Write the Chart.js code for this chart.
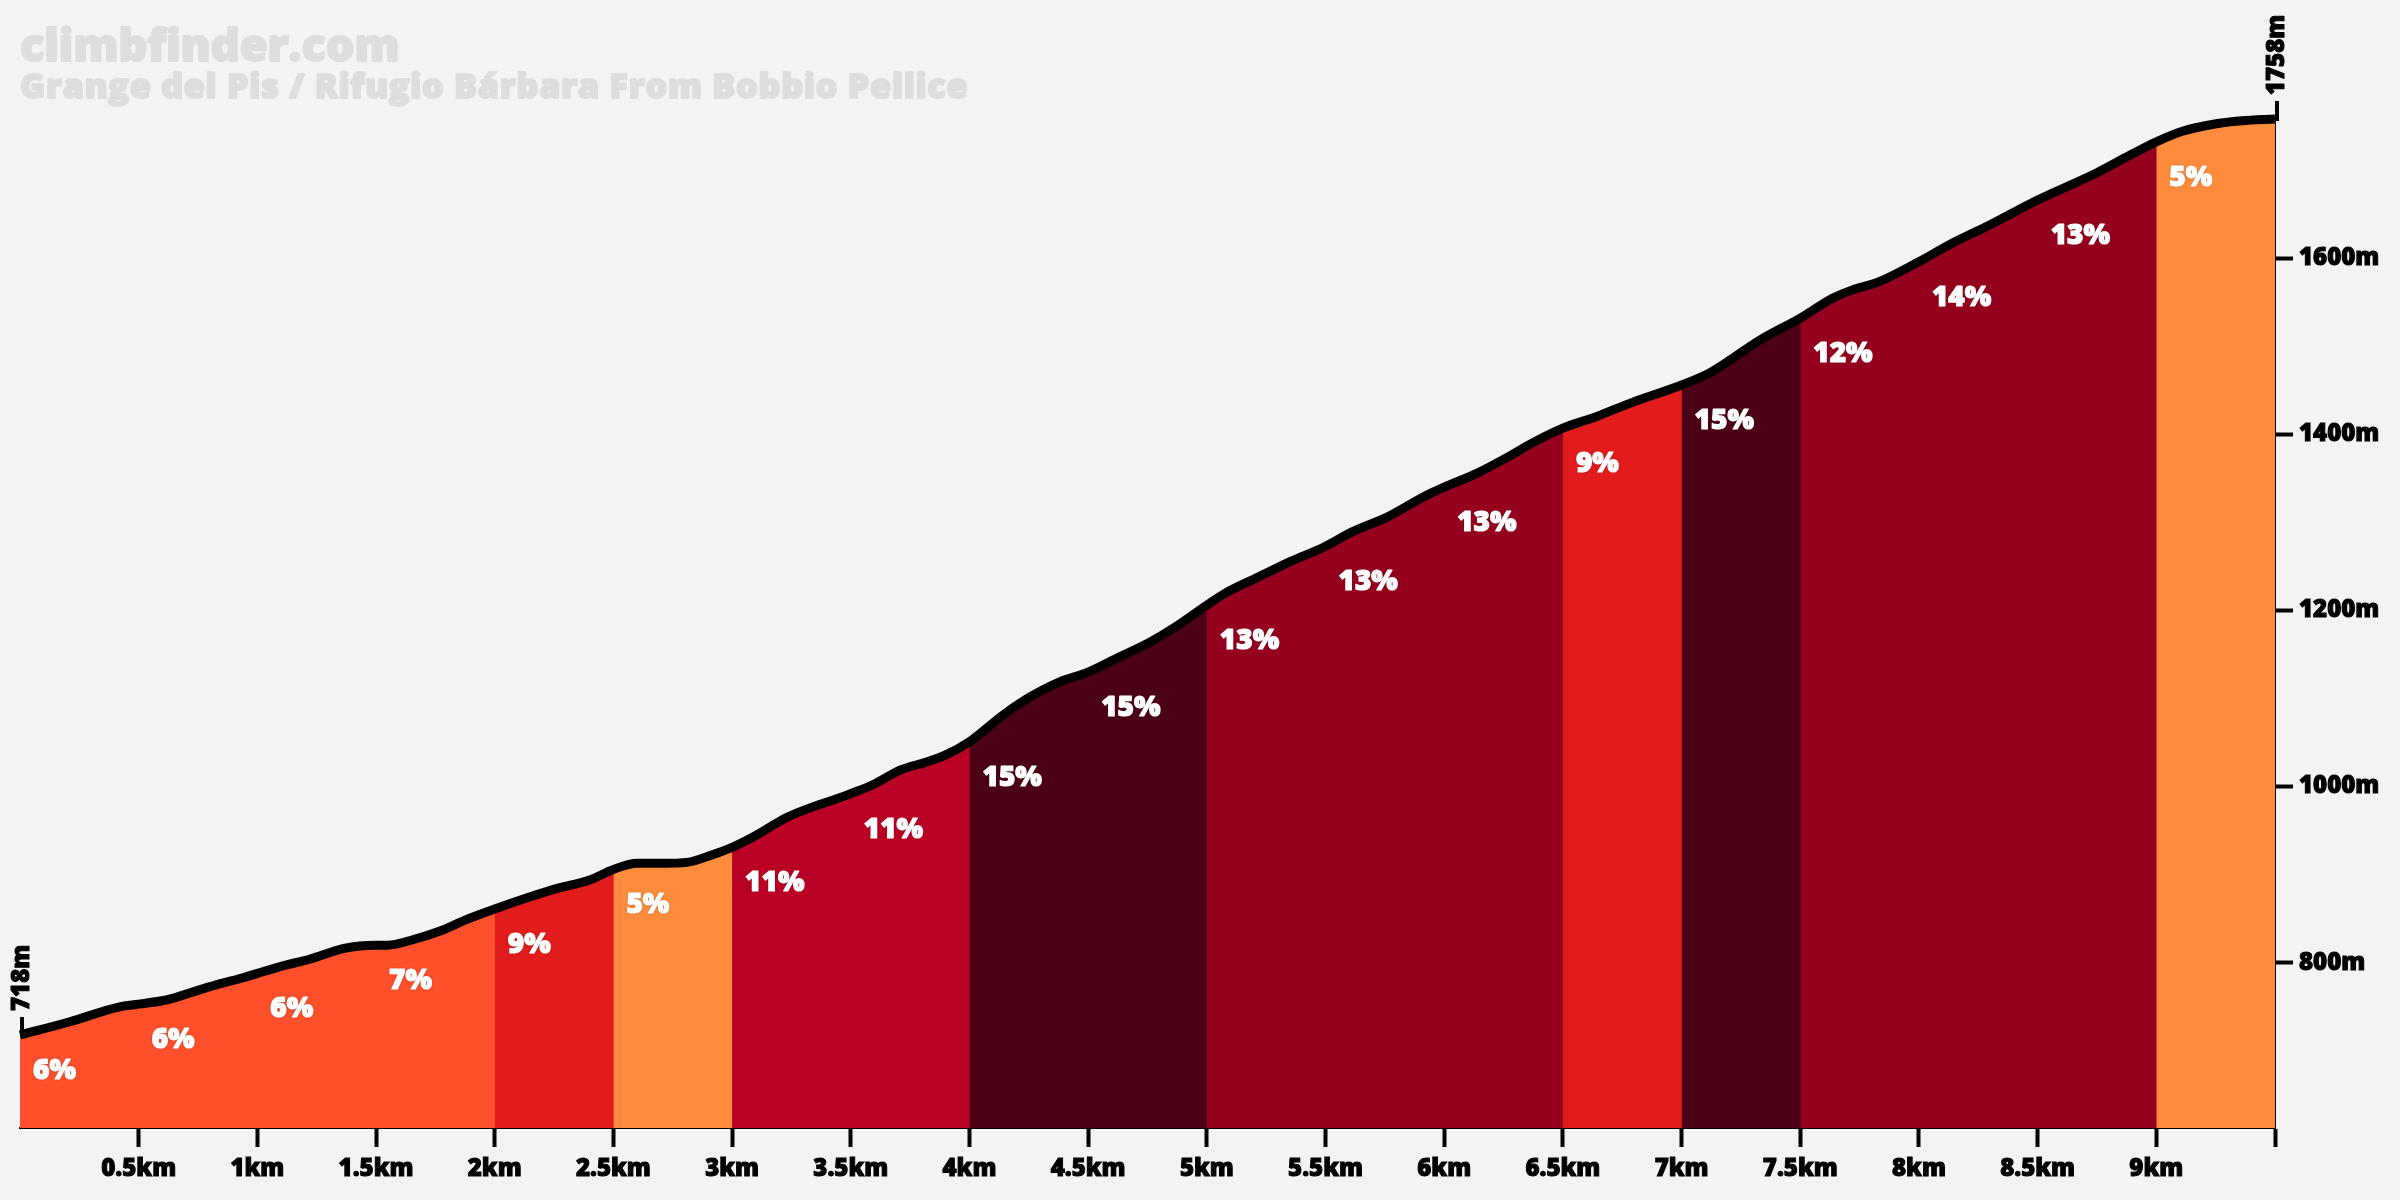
<!DOCTYPE html>
<html>
<head>
<meta charset="utf-8">
<title>climbfinder.com</title>
<script src="https://cdn.jsdelivr.net/npm/chart.js@4/dist/chart.umd.min.js"></script>
<style>
  html, body { margin: 0; padding: 0; background: #f3f3f3; }
  canvas { display: block; }
</style>
</head>
<body>
<canvas id="profile" width="2400" height="1200"></canvas>
<script>
const siteName = "climbfinder.com";
const climbName = "Grange del Pis / Rifugio Bárbara From Bobbio Pellice";

// distance (km) and elevation (m)
const distances = [0, .21, .42, .5, .62, .73, .84, .94, 1, 1.1, 1.22, 1.36, 1.43, 1.5, 1.55, 1.64, 1.77, 1.88,
  2, 2.14, 2.27, 2.4, 2.5, 2.6, 2.71, 2.81, 2.92, 3, 3.09, 3.23, 3.34, 3.45, 3.5, 3.6, 3.71, 3.82, 3.9,
  4, 4.14, 4.25, 4.38, 4.5, 4.63, 4.76, 4.86, 5, 5.08, 5.21, 5.34, 5.5, 5.61, 5.76, 5.92, 6,
  6.14, 6.26, 6.37, 6.5, 6.64, 6.79, 7, 7.12, 7.33, 7.5, 7.64, 7.72, 7.83, 8, 8.14, 8.3,
  8.5, 8.75, 8.89, 9, 9.11, 9.24, 9.36, 9.5];
const elevations = [718, 733, 750, 753, 758, 767, 776, 783, 788, 796, 804, 816, 819, 820, 820, 825, 836, 849,
  861, 874, 885, 894, 906, 913, 913, 914, 923, 931, 943, 965, 977, 987, 992, 1003, 1019, 1028, 1036,
  1051, 1081, 1101, 1119, 1130, 1147, 1164, 1180, 1206, 1220, 1237, 1254, 1273, 1289, 1306, 1330, 1340,
  1356, 1373, 1390, 1407, 1420, 1436, 1456, 1470, 1507, 1532, 1555, 1564, 1573, 1596, 1617, 1638,
  1666, 1697, 1717, 1732, 1744, 1752, 1756, 1758];

// one gradient per half kilometre
const sliceStarts = [0, .5, 1, 1.5, 2, 2.5, 3, 3.5, 4, 4.5, 5, 5.5, 6, 6.5, 7, 7.5, 8, 8.5, 9];
const grades = [6, 6, 6, 7, 9, 5, 11, 11, 15, 15, 13, 13, 13, 9, 15, 12, 14, 13, 5];

const xTickLabels = ["", "0.5km", "1km", "1.5km", "2km", "2.5km", "3km", "3.5km", "4km", "4.5km", "5km", "5.5km", "6km",
  "6.5km", "7km", "7.5km", "8km", "8.5km", "9km", ""];
const yTickValues = [800, 1000, 1200, 1400, 1600];

const FONT = '"Open Sans", "Noto Sans", sans-serif';
const sliceLength = 0.5;

function gradeColor(g) {
  if (g <= 5) return "#ff8c3c";
  if (g <= 7) return "#ff502b";
  if (g <= 9) return "#e21c1c";
  if (g <= 11) return "#ba0024";
  if (g <= 14) return "#95001f";
  return "#4c0015";
}

const profile = distances.map((d, i) => ({ x: d, y: elevations[i] }));

function elevationAt(km) {
  return elevations[distances.indexOf(km)];
}

// each slice fills to the end of the climb, the later slices paint over it,
// that way no light seam shows between two neighbours
const sliceSets = sliceStarts.map((start, i) => ({
  data: profile.filter(p => p.x >= start),
  backgroundColor: gradeColor(grades[i]),
  borderWidth: 0,
  pointRadius: 0,
  fill: "start",
  cubicInterpolationMode: "monotone"
})).reverse();

const lineSet = {
  data: profile,
  borderColor: "#000",
  borderWidth: 9,
  borderCapStyle: "butt",
  pointRadius: 0,
  fill: false,
  clip: false,
  cubicInterpolationMode: "monotone"
};

// grade labels, end heights and the two title rows
const annotations = {
  id: "annotations",
  afterDraw(chart) {
    const ctx = chart.ctx;
    const x = chart.scales.x;
    const y = chart.scales.y;

    ctx.save();
    ctx.textBaseline = "middle";
    ctx.textAlign = "left";
    ctx.lineJoin = "round";
    ctx.font = "800 28px " + FONT;
    sliceStarts.forEach((start, i) => {
      const px = x.getPixelForValue(start) + 13;
      const py = y.getPixelForValue(elevationAt(start)) + 36;
      const txt = grades[i] + "%";
      ctx.shadowColor = "rgba(0,0,0,.35)";
      ctx.shadowBlur = 3;
      ctx.fillStyle = "#fff";
      ctx.fillText(txt, px, py);
      ctx.shadowColor = "transparent";
      ctx.strokeStyle = "#fff";
      ctx.lineWidth = 1.2;
      ctx.strokeText(txt, px, py);
    });

    // start and finish height markers
    [0, 9.5].forEach(km => {
      const px = x.getPixelForValue(km) + 2;
      const py = y.getPixelForValue(elevationAt(km));
      ctx.fillStyle = "#000";
      ctx.fillRect(px - 2, py - 18, 4, 20);
      ctx.save();
      ctx.translate(px, py - 24);
      ctx.rotate(-Math.PI / 2);
      ctx.textAlign = "left";
      ctx.font = "800 24px " + FONT;
      ctx.strokeStyle = "#000";
      ctx.lineWidth = 1;
      ctx.fillText(elevationAt(km) + "m", 0, 0);
      ctx.strokeText(elevationAt(km) + "m", 0, 0);
      ctx.restore();
    });

    ctx.textBaseline = "alphabetic";
    ctx.fillStyle = "#dedede";
    ctx.strokeStyle = "#dedede";
    ctx.lineWidth = 2;
    ctx.font = "800 45px " + FONT;
    ctx.fillText(siteName, 20, 61);
    ctx.strokeText(siteName, 20, 61);
    ctx.font = "800 34px " + FONT;
    ctx.letterSpacing = "0.8px";
    ctx.fillText(climbName, 20, 98);
    ctx.strokeText(climbName, 20, 98);
    ctx.restore();
  }
};

new Chart(document.getElementById("profile"), {
  type: "line",
  data: { datasets: [lineSet].concat(sliceSets) },
  plugins: [annotations],
  options: {
    responsive: false,
    animation: false,
    devicePixelRatio: 1,
    layout: { padding: { left: 20, top: 119, right: 0, bottom: 0 } },
    plugins: { legend: { display: false }, tooltip: { enabled: false } },
    scales: {
      x: {
        type: "linear",
        min: 0,
        max: 9.5,
        z: 1,
        afterFit: s => { s.height = 72; },
        afterBuildTicks: s => { s.ticks = xTickLabels.map((_, i) => ({ value: i * sliceLength })); },
        border: { color: "#000", width: 2 },
        grid: {
          drawOnChartArea: false,
          tickLength: 19,
          tickWidth: 4,
          tickColor: c => (c.index === 0 ? "rgba(0,0,0,0)" : "#000")
        },
        ticks: {
          autoSkip: false,
          maxRotation: 0,
          color: "#000",
          padding: 8,
          textStrokeColor: "#000",
          textStrokeWidth: 1,
          font: { family: FONT, size: 24, weight: "800" },
          callback: (v, i) => xTickLabels[i]
        }
      },
      y: {
        type: "linear",
        position: "right",
        min: 612.4,
        max: 1758,
        z: 1,
        afterFit: s => { s.width = 125; },
        afterBuildTicks: s => { s.ticks = yTickValues.map(v => ({ value: v })); },
        border: { color: "#000", width: 2 },
        grid: {
          drawOnChartArea: false,
          tickLength: 18,
          tickWidth: 4,
          tickColor: "#000"
        },
        ticks: {
          color: "#000",
          padding: 6,
          textStrokeColor: "#000",
          textStrokeWidth: 1,
          font: { family: FONT, size: 24, weight: "800" },
          callback: v => v + "m"
        }
      }
    }
  }
});
</script>
</body>
</html>
